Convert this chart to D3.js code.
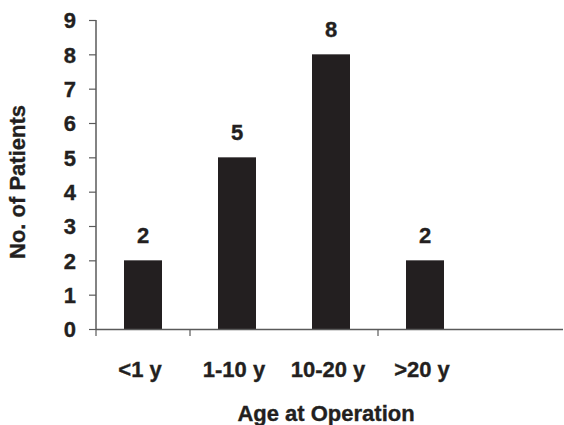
<!DOCTYPE html>
<html>
<head>
<meta charset="utf-8">
<script src="https://cdn.jsdelivr.net/npm/d3@7"></script>
<style>
  html, body { margin: 0; padding: 0; background: #fff; }
  text { font-family: "Liberation Sans", Arial, sans-serif; font-weight: bold; fill: #231f20; stroke: #231f20; stroke-width: 0.35px; }
</style>
</head>
<body>
<svg id="chart" width="564" height="425"></svg>
<script>
const categories = ["<1 y", "1-10 y", "10-20 y", ">20 y", ""];
const values = [2, 5, 8, 2, null];
const yTicks = [0, 1, 2, 3, 4, 5, 6, 7, 8, 9];
const xTickBoundaries = [0, 1, 3];

(function () {
const svg = d3.select("#chart");
const mLeft = 96, mRight = 566, mTop = 20, mBottom = 329;
const fs = 22;

const x = d3.scaleBand().domain(d3.range(categories.length)).range([mLeft, mRight]).paddingInner(0).paddingOuter(0);
const y = d3.scaleLinear().domain([0, 9]).range([mBottom, mTop]);
const barW = 38;
const ink = "#231f20";
const axisCol = "#5a5a5a";

// bars
const data = categories.map((c, i) => ({ c, v: values[i], i })).filter(d => d.v != null);
svg.selectAll("rect.bar").data(data).enter().append("rect")
  .attr("class", "bar")
  .attr("x", d => x(d.i) + x.bandwidth() / 2 - barW / 2)
  .attr("width", barW)
  .attr("y", d => y(d.v))
  .attr("height", d => y(0) - y(d.v))
  .attr("fill", ink);

// value labels
svg.selectAll("text.val").data(data).enter().append("text")
  .attr("class", "val")
  .attr("x", d => x(d.i) + x.bandwidth() / 2)
  .attr("y", d => y(d.v) - 17)
  .attr("text-anchor", "middle")
  .attr("font-size", fs)
  .text(d => d.v);

// y axis
const yAxis = d3.axisLeft(y).tickValues(yTicks).tickSize(7).tickPadding(13).tickFormat(d3.format("d"));
const gy = svg.append("g").attr("transform", `translate(${mLeft},0)`).call(yAxis);
gy.select(".domain").attr("stroke", axisCol).attr("stroke-width", 1.5).attr("d", `M0,${mTop}V${mBottom}`);
gy.selectAll(".tick line").attr("stroke", axisCol).attr("stroke-width", 1.2);
gy.selectAll(".tick text").attr("font-size", fs).attr("font-family", "Liberation Sans, Arial, sans-serif")
  .attr("font-weight", "bold").attr("fill", ink).attr("dy", "0.36em");

// x axis line
svg.append("line").attr("x1", mLeft).attr("x2", 563).attr("y1", mBottom + 0.5).attr("y2", mBottom + 0.5)
  .attr("stroke", axisCol).attr("stroke-width", 1.5);
// x ticks at band boundaries
svg.selectAll("line.xt").data(xTickBoundaries).enter().append("line")
  .attr("class", "xt")
  .attr("x1", d => x(d)).attr("x2", d => x(d))
  .attr("y1", mBottom).attr("y2", mBottom + 7)
  .attr("stroke", axisCol).attr("stroke-width", 1.2);

// x labels
svg.selectAll("text.xl").data(categories.filter(c => c)).enter().append("text")
  .attr("class", "xl")
  .attr("x", (d, i) => x(i) + x.bandwidth() / 2 - 3)
  .attr("y", 377)
  .attr("text-anchor", "middle")
  .attr("font-size", fs)
  .text(d => d);

// axis titles
svg.append("text").attr("x", 326).attr("y", 421).attr("text-anchor", "middle")
  .attr("font-size", fs).text("Age at Operation");
svg.append("text").attr("transform", "translate(25,182) rotate(-90)").attr("text-anchor", "middle")
  .attr("font-size", fs).text("No. of Patients");
})();
</script>
</body>
</html>
